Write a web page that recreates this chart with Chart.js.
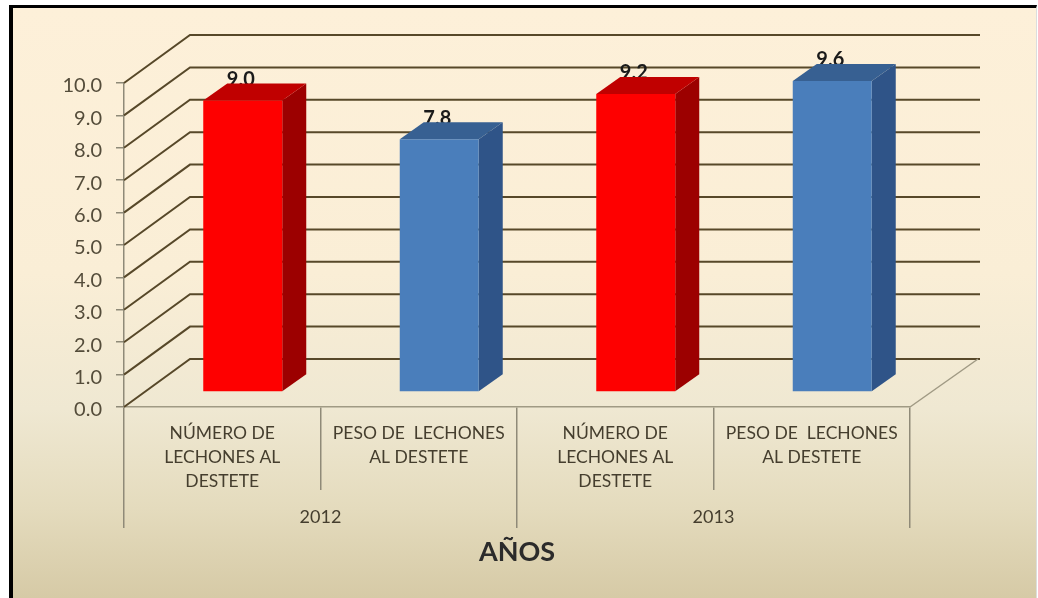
<!DOCTYPE html>
<html lang="es">
<head>
<meta charset="utf-8">
<title>Lechones al destete</title>
<script src="https://cdn.jsdelivr.net/npm/chart.js@4"></script>
<style>
    html, body { margin: 0; padding: 0; width: 1038px; height: 598px; background: #fff; overflow: hidden; }
    #frame {
        position: absolute; left: 9px; top: 5px; width: 1023px; height: 590px;
        border-left: 4px solid #000; border-top: 3px solid #000;
        border-right: 1px solid #ddd; border-bottom: 1px solid #777;
        background: linear-gradient(to bottom, #fdf0d9 0%, #faeed6 45%, #efe8d2 68%, #e4dbbd 85%, #d6caa6 100%);
    }
    #chartBox { position: absolute; left: 0; top: 0; width: 1038px; height: 598px; }
</style>
</head>
<body>
<div id="frame"></div>
<div id="chartBox"><canvas id="lechonesChart"></canvas></div>
<script>
// Weaning figures per year, drawn as a 3D-looking column chart
const measures = [
    ['NÚMERO DE', 'LECHONES AL', 'DESTETE'],
    ['PESO DE  LECHONES', 'AL DESTETE'],
    ['NÚMERO DE', 'LECHONES AL', 'DESTETE'],
    ['PESO DE  LECHONES', 'AL DESTETE']
];
const years = ['2012', '2013'];
const values = [9.0, 7.8, 9.2, 9.6];
const axisTitle = 'AÑOS';

const frontColors = ['#fe0000', '#4a7ebb', '#fe0000', '#4a7ebb'];
const topColors = ['#c00000', '#376092', '#c00000', '#376092'];
const sideColors = ['#9c0000', '#2f5488', '#9c0000', '#2f5488'];

const FONT = 'Lato, "Open Sans", sans-serif';

// depth of the back wall and of the columns standing on the floor
const WALL_DX = 66;
const WALL_DY = 48;
const BAR_SHIFT_X = 20.5;
const BAR_SHIFT_Y = 15;
const BAR_DX = 24;
const BAR_DY = 17;
const WALL_RIGHT = 980;

const depthPlugin = {
    id: 'depth',
    beforeDatasetsDraw(chart) {
        const ctx = chart.ctx;
        const y = chart.scales.y;
        const x = chart.scales.x;
        const left = x.left;
        const right = x.right;

        ctx.save();
        // wall gridlines, bent at the corner of the side wall
        ctx.strokeStyle = '#574829';
        ctx.lineWidth = 2;
        y.ticks.forEach(t => {
            const py = y.getPixelForValue(t.value);
            ctx.beginPath();
            ctx.moveTo(left, py);
            ctx.lineTo(left + WALL_DX, py - WALL_DY);
            ctx.lineTo(WALL_RIGHT, py - WALL_DY);
            ctx.stroke();
        });
        // floor edges
        const y0 = y.getPixelForValue(0);
        ctx.strokeStyle = '#a09a84';
        ctx.lineWidth = 1.5;
        ctx.beginPath();
        ctx.moveTo(right, y0);
        ctx.lineTo(right + WALL_DX + 2, y0 - WALL_DY);
        ctx.stroke();

        // value labels sit behind the column tops
        const meta = chart.getDatasetMeta(0);
        ctx.font = 'bold 20px ' + FONT;
        ctx.fillStyle = '#1a1a1a';
        ctx.textAlign = 'center';
        ctx.textBaseline = 'middle';
        meta.data.forEach((bar, i) => {
            ctx.fillText(values[i].toFixed(1), bar.x + BAR_SHIFT_X - 2, bar.y - BAR_SHIFT_Y - BAR_DY - 4);
        });

        // side and top faces of the columns
        meta.data.forEach((bar, i) => {
            const l = bar.x - bar.width / 2 + BAR_SHIFT_X;
            const r = bar.x + bar.width / 2 + BAR_SHIFT_X;
            const t = bar.y - BAR_SHIFT_Y;
            const b = bar.base - BAR_SHIFT_Y;
            ctx.fillStyle = sideColors[i];
            ctx.beginPath();
            ctx.moveTo(r, t);
            ctx.lineTo(r + BAR_DX, t - BAR_DY);
            ctx.lineTo(r + BAR_DX, b - BAR_DY);
            ctx.lineTo(r, b);
            ctx.closePath();
            ctx.fill();
            ctx.fillStyle = topColors[i];
            ctx.beginPath();
            ctx.moveTo(l, t);
            ctx.lineTo(l + BAR_DX, t - BAR_DY);
            ctx.lineTo(r + BAR_DX, t - BAR_DY);
            ctx.lineTo(r, t);
            ctx.closePath();
            ctx.fill();
        });
        ctx.restore();

        // front faces are the library's own bars, moved onto the floor
        ctx.save();
        ctx.translate(BAR_SHIFT_X, -BAR_SHIFT_Y);
    },
    afterDatasetsDraw(chart) {
        chart.ctx.restore();
    }
};

new Chart(document.getElementById('lechonesChart'), {
    type: 'bar',
    data: {
        labels: measures,
        datasets: [{
            data: values,
            backgroundColor: frontColors,
            borderWidth: 0,
            categoryPercentage: 0.402,
            barPercentage: 1,
            clip: false
        }]
    },
    options: {
        responsive: true,
        maintainAspectRatio: false,
        animation: false,
        layout: { padding: { left: 0, top: 83, right: 128, bottom: 0 } },
        plugins: { legend: { display: false }, tooltip: { enabled: false } },
        scales: {
            y: {
                min: 0,
                max: 10,
                ticks: {
                    stepSize: 1,
                    padding: 14,
                    labelOffset: 3,
                    color: '#544c3a',
                    font: { family: FONT, size: 20 },
                    callback: v => v.toFixed(1)
                },
                grid: { drawOnChartArea: false, color: '#8f8a78', lineWidth: 1.5, tickLength: 8 },
                border: { color: '#8f8a78', width: 1.5 },
                afterFit: s => { s.width = 124; }
            },
            x: {
                offset: true,
                ticks: {
                    padding: -69,
                    color: '#453e2e',
                    maxRotation: 0,
                    font: { family: FONT, size: 17.5, lineHeight: 1.37 }
                },
                grid: { drawOnChartArea: false, offset: true, color: '#8f8a78', lineWidth: 1.5, tickLength: 83 },
                border: { color: '#a09a84', width: 1.5 },
                afterFit: s => { s.height = 83; }
            },
            x2: {
                type: 'category',
                position: 'bottom',
                labels: years,
                offset: true,
                ticks: {
                    padding: -22,
                    color: '#453e2e',
                    maxRotation: 0,
                    font: { family: FONT, size: 18 }
                },
                grid: { drawOnChartArea: false, offset: true, color: '#8f8a78', lineWidth: 1.5, tickLength: 38 },
                border: { display: false },
                title: {
                    display: true,
                    text: axisTitle,
                    color: '#2b2b2b',
                    font: { family: FONT, size: 27, weight: 'bold' },
                    padding: { top: 0, bottom: 30 }
                },
                afterFit: s => { s.height = 108; }
            }
        }
    },
    plugins: [depthPlugin]
});
</script>
</body>
</html>
